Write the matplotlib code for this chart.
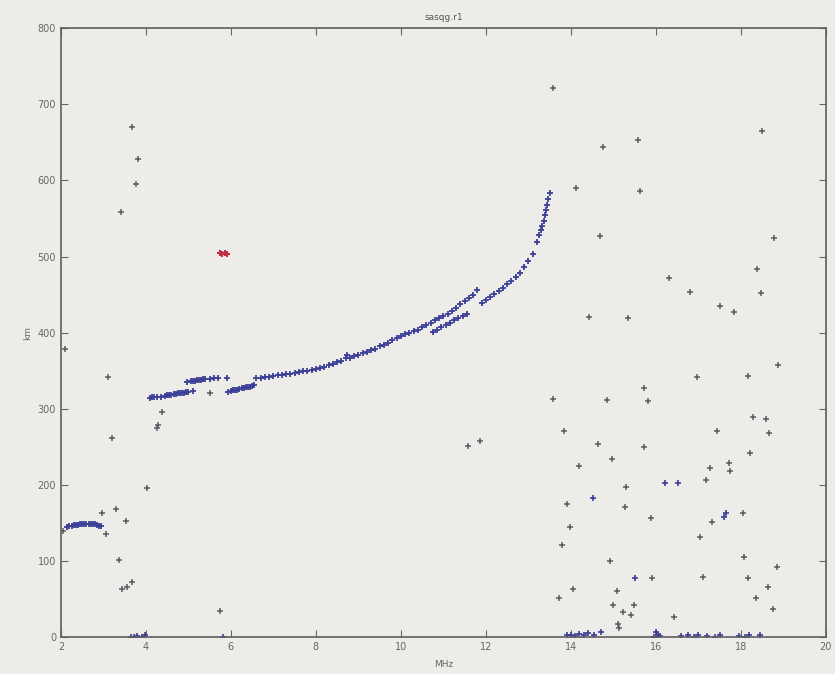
import numpy as np
import matplotlib
matplotlib.use("Agg")
import matplotlib.pyplot as plt

# main trace (blue)
trace_x = [2.15, 2.2, 2.25, 2.3, 2.35, 2.4, 2.45, 2.5, 2.55, 2.6, 2.65, 2.7, 2.75, 2.8, 2.85, 2.9, 2.95,
           4.1, 4.15, 4.2, 4.25, 4.35, 4.45, 4.5, 4.55, 4.6, 4.65, 4.7, 4.75, 4.8, 4.85, 4.9, 4.95, 5.0, 5.1,
           4.97, 5.05, 5.1, 5.15, 5.2, 5.25, 5.3, 5.35, 5.4, 5.5, 5.6, 5.7, 5.9,
           5.93, 6.0, 6.05, 6.1, 6.15, 6.2, 6.25, 6.3, 6.35, 6.4, 6.45, 6.5, 6.55,
           6.6, 6.7, 6.8, 6.9, 7.0, 7.1, 7.2, 7.3, 7.4, 7.5, 7.6, 7.7, 7.8, 7.9, 8.0,
           8.1, 8.2, 8.3, 8.4, 8.5, 8.6, 8.7, 8.72, 8.8, 8.9, 9.0, 9.1, 9.2, 9.3, 9.4, 9.5,
           9.6, 9.7, 9.8, 9.9, 10.0, 10.1, 10.2, 10.3, 10.4, 10.5, 10.6, 10.7, 10.8, 10.9,
           11.0, 11.1, 11.2, 11.3, 11.4, 11.5, 11.6, 11.7, 11.8,
           10.75, 10.85, 10.95, 11.05, 11.15, 11.25, 11.35, 11.45, 11.55,
           11.9, 12.0, 12.1, 12.2, 12.3, 12.4, 12.5, 12.6, 12.7, 12.8, 12.9, 13.0, 13.1,
           13.2, 13.25, 13.3, 13.33, 13.36, 13.38, 13.41, 13.43, 13.47, 13.5]
trace_y = [145, 146, 146, 147, 147, 147, 148, 148, 148, 148, 149, 149, 148, 148, 147, 146, 146,
           314, 315, 315, 316, 316, 317, 318, 318, 318, 319, 319, 320, 320, 321, 321, 322, 322, 323,
           335, 336, 337, 337, 338, 338, 338, 339, 339, 339, 340, 340, 341,
           322, 323, 324, 325, 325, 326, 327, 327, 328, 329, 329, 330, 331,
           340, 341, 342, 342, 343, 344, 344, 345, 346, 347, 348, 349, 350, 351, 352,
           353, 355, 357, 359, 361, 363, 366, 371, 367, 369, 371, 373, 375, 377, 379, 382,
           384, 387, 390, 393, 396, 398, 400, 402, 404, 407, 410, 413, 416, 419,
           422, 425, 429, 433, 437, 441, 445, 450, 456,
           401, 404, 407, 410, 413, 416, 419, 422, 425,
           439, 443, 447, 451, 455, 459, 464, 468, 473, 479, 486, 494, 503,
           519, 528, 535, 540, 547, 554, 561, 568, 576, 583]

# scattered returns (dark grey)
scatter_x = [2.05, 2.09, 3.11, 3.2, 3.41, 3.67, 3.81, 3.76, 4.38, 4.29, 4.27, 2.97, 3.06, 3.3, 3.53,
             3.37, 3.44, 3.55, 3.67, 4.03, 5.75, 5.5, 11.59, 11.87,
             13.59, 14.75, 15.57, 14.11, 15.62, 18.49, 14.68, 18.78, 16.3, 16.8, 18.38, 18.47,
             17.5, 17.83, 14.42, 15.34,
             18.87, 16.96, 18.16, 15.71, 15.81, 13.59, 14.84, 18.28, 18.59, 18.66, 13.83, 17.43,
             14.65, 15.71, 18.21, 14.18, 14.96, 17.27, 17.72, 17.74, 17.17, 15.29, 13.9, 15.27,
             18.05, 17.32, 15.88, 13.99, 17.03, 13.8, 18.07, 14.91, 18.85, 15.92, 17.1, 18.16,
             14.06, 15.08, 18.63, 13.73, 18.35, 15.0, 15.48, 15.22, 15.41, 18.75, 16.42, 15.12, 15.14]
scatter_y = [139, 378, 342, 261, 559, 670, 628, 596, 296, 279, 274, 163, 135, 168, 152,
             101, 63, 66, 72, 196, 34, 320, 251, 257,
             722, 644, 653, 590, 586, 665, 527, 524, 472, 454, 483, 452,
             435, 427, 421, 419,
             357, 342, 343, 327, 310, 313, 311, 289, 286, 268, 271, 271,
             253, 250, 242, 225, 234, 222, 228, 218, 206, 197, 175, 171,
             163, 151, 156, 145, 131, 121, 105, 100, 92, 78, 79, 78,
             63, 61, 65, 51, 51, 42, 42, 33, 29, 37, 26, 17, 12]

# blue returns near the axis and mid-right
low_x = [3.65, 3.72, 3.8, 3.9, 3.97, 5.82, 13.92, 14.0, 14.1, 14.2, 14.3, 14.4, 14.55, 14.7,
         15.95, 16.0, 16.05, 16.1, 16.6, 16.75, 16.9, 17.0, 17.2, 17.4, 17.5, 17.95, 18.1, 18.2, 18.45,
         16.21, 16.51, 14.51, 17.6, 17.65, 15.52]
low_y = [0, 0, 1, 0, 2, 0, 3, 2, 1, 4, 2, 5, 3, 6,
         0, 6, 3, 1, 1, 2, 0, 2, 1, 0, 2, 1, 0, 3, 2,
         202, 202, 183, 158, 163, 78]

# red cluster
red_x = [5.75, 5.8, 5.85, 5.9]
red_y = [505, 503, 504, 503]

fig = plt.figure(figsize=(8.35, 6.74), dpi=100)
fig.patch.set_facecolor('#eeece8')
ax = fig.add_axes([0.073, 0.055, 0.916, 0.903])
ax.set_facecolor('#eeece8')

ax.plot(scatter_x, scatter_y, '+', color='#5a5a62', markersize=4.5, markeredgewidth=1.1)
ax.plot(trace_x, trace_y, '+', color='#3b3f96', markersize=5, markeredgewidth=1.3)
ax.plot(low_x, low_y, '+', color='#3b3f96', markersize=4, markeredgewidth=1.2)
ax.plot(red_x, red_y, '+', color='#c03048', markersize=4, markeredgewidth=1.5)

ax.set_xlim(2, 20)
ax.set_ylim(0, 800)
ax.set_xticks(np.arange(2, 21, 2))
ax.set_yticks(np.arange(0, 801, 100))
ax.tick_params(direction='in', top=True, right=True, labelsize=7, colors='#666666', length=5)
for s in ax.spines.values():
    s.set_color('#5e5e5e')
    s.set_linewidth(1.2)

ax.set_title('sasqg.r1', fontsize=6.5, color='#555555', pad=6)
ax.set_xlabel('MHz', fontsize=6.5, color='#666666', labelpad=6)
ax.set_ylabel('km', fontsize=6.5, color='#666666', labelpad=4)

fig.savefig('out.png', dpi=100, facecolor=fig.get_facecolor())
